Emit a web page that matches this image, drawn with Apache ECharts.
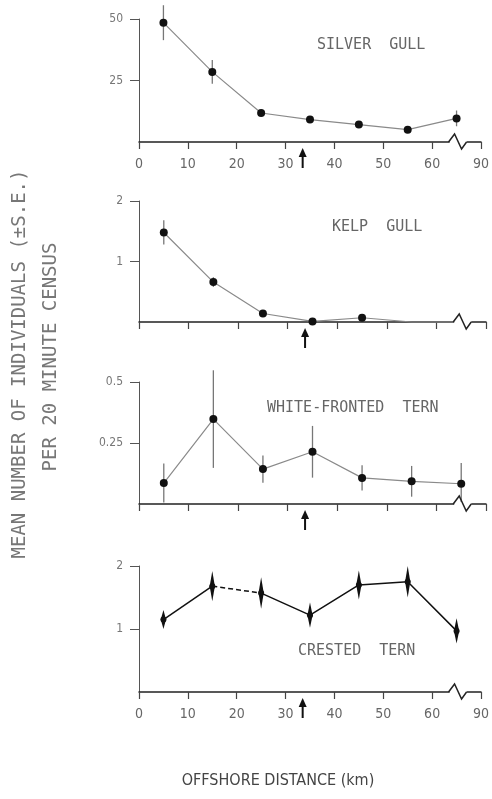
<!DOCTYPE html>
<html>
<head>
<meta charset="utf-8">
<script src="https://cdn.jsdelivr.net/npm/echarts@6/dist/echarts.min.js"></script>
<style>
  html, body { margin: 0; padding: 0; background: #fff; }
  #main { width: 492px; height: 799px; }
</style>
</head>
<body>
<div id="main"></div>
<script>
// sampling distances (km, midpoint of each 10 km band)
var distances = [5, 15, 25, 35, 45, 55, 65];
var xTickLabels = ['0', '10', '20', '30', '40', '50', '60', '90'];
var arrowDistance = [33.5];

// mean per 20 min census and standard error
var silverMean = [48.5, 28.5, 11.8, 9.1, 7.1, 5.0, 9.6];
var silverSE = [7.1, 4.8, 1.2, 1.0, 1.0, 0.8, 3.2];
var kelpMean = [1.48, 0.66, 0.14, 0.01, 0.07, 0, 0];
var kelpSE = [0.2, 0.08, 0.04, 0.01, 0.03, 0, 0];
var whiteMean = [0.086, 0.348, 0.143, 0.214, 0.107, 0.093, 0.083];
var whiteSE = [0.08, 0.2, 0.056, 0.106, 0.052, 0.063, 0.085];
var crestedMean = [1.15, 1.68, 1.57, 1.22, 1.70, 1.75, 0.97];
var crestedSE = [0.15, 0.24, 0.25, 0.2, 0.23, 0.25, 0.2];

var NARROW = '"DejaVu Sans Condensed", sans-serif';
var MONO = '"DejaVu Sans Mono", "Liberation Mono", monospace';

var panels = [
  { name: 'SILVER  GULL', mean: silverMean, se: silverSE, max: 50, top: 19, height: 123, labels: true, kind: 'dot', tx: 317, ty: 38 },
  { name: 'KELP  GULL', mean: kelpMean, se: kelpSE, max: 2, top: 201, height: 121, labels: false, kind: 'dot', tx: 332, ty: 220 },
  { name: 'WHITE-FRONTED  TERN', mean: whiteMean, se: whiteSE, max: 0.5, top: 382, height: 122, labels: false, kind: 'dot', tx: 267, ty: 401 },
  { name: 'CRESTED  TERN', mean: crestedMean, se: crestedSE, max: 2, top: 566, height: 126, labels: true, kind: 'spindle', tx: 298, ty: 644 }
];

var chart = echarts.init(document.getElementById('main'));

var grids = [], xAxes = [], yAxes = [], series = [], graphics = [];

function pairs(ys) {
  return distances.map(function (d, i) { return [d, ys[i]]; });
}

panels.forEach(function (p, k) {
  grids.push({ left: 139, right: 6, top: p.top, height: p.height });
  xAxes.push({
    type: 'value', gridIndex: k, min: 0, max: 70, interval: 10,
    axisLine: { show: true, lineStyle: { color: '#222', width: 1.5 } },
    axisTick: { show: true, inside: false, length: 7, lineStyle: { color: '#444', width: 1.2 } },
    axisLabel: {
      show: p.labels, margin: 15, color: '#666', fontSize: 14,
      fontFamily: NARROW,
      formatter: function (v) { return xTickLabels[Math.round(v / 10)]; }
    },
    splitLine: { show: false }
  });
  yAxes.push({
    type: 'value', gridIndex: k, min: 0, max: p.max, interval: p.max / 2,
    axisLine: { show: true, lineStyle: { color: '#555', width: 1 } },
    axisTick: { show: true, length: 9, customValues: [p.max / 2, p.max], lineStyle: { color: '#555' } },
    axisLabel: {
      margin: 16, color: '#777', fontSize: 12, fontFamily: NARROW,
      customValues: [p.max / 2, p.max]
    },
    splitLine: { show: false }
  });

  // error bars
  series.push({
    type: 'custom', xAxisIndex: k, yAxisIndex: k, clip: false, z: 3,
    data: distances.map(function (d, i) { return [d, p.mean[i], p.se[i]]; }),
    renderItem: function (params, api) {
      var x = api.value(0), y = api.value(1), e = api.value(2);
      if (!e) return null;
      var hi = api.coord([x, y + e]), lo = api.coord([x, y - e]), c = api.coord([x, y]);
      if (p.kind === 'spindle') {
        return {
          type: 'polygon',
          shape: { points: [hi, [c[0] + 2.6, c[1]], lo, [c[0] - 2.6, c[1]]] },
          style: { fill: '#111' }
        };
      }
      return {
        type: 'line',
        shape: { x1: hi[0], y1: hi[1], x2: lo[0], y2: lo[1] },
        style: { stroke: '#777', lineWidth: 1.3 }
      };
    }
  });

  // mean lines
  if (p.kind === 'spindle') {
    var pts = pairs(p.mean);
    [pts.slice(0, 2), pts.slice(2)].forEach(function (seg) {
      series.push({
        type: 'line', xAxisIndex: k, yAxisIndex: k, data: seg, clip: false,
        symbol: 'circle', symbolSize: 6, itemStyle: { color: '#111' },
        lineStyle: { color: '#111', width: 1.5 }, z: 4
      });
    });
    series.push({
      type: 'line', xAxisIndex: k, yAxisIndex: k, data: pts.slice(1, 3), clip: false,
      symbol: 'none', lineStyle: { color: '#111', width: 1.5, type: [5, 3] }, z: 4
    });
  } else {
    series.push({
      type: 'line', xAxisIndex: k, yAxisIndex: k, data: pairs(p.mean), clip: false,
      symbol: 'circle',
      symbolSize: function (v) { return v[1] === 0 ? 0 : 8; },
      itemStyle: { color: '#111' },
      lineStyle: { color: '#8a8a8a', width: 1.2 }, z: 4
    });
  }

  // axis break near the 60-90 gap
  series.push({
    type: 'custom', xAxisIndex: k, yAxisIndex: k, clip: false, z: 5,
    data: [[65, 0]], silent: true,
    renderItem: function (params, api) {
      var c = api.coord([api.value(0), api.value(1)]);
      return {
        type: 'group',
        children: [
          { type: 'rect', shape: { x: c[0] - 7, y: c[1] - 2, width: 17, height: 4 }, style: { fill: '#fff' } },
          {
            type: 'polyline',
            shape: { points: [[c[0] - 8, c[1]], [c[0] - 2, c[1] - 8], [c[0] + 5, c[1] + 7], [c[0] + 10, c[1]]] },
            style: { stroke: '#222', lineWidth: 1.5, fill: null }
          }
        ]
      };
    }
  });

  // arrow under the axis
  series.push({
    type: 'custom', xAxisIndex: k, yAxisIndex: k, clip: false, z: 5,
    data: arrowDistance.map(function (d) { return [d, 0]; }), silent: true,
    renderItem: function (params, api) {
      var c = api.coord([api.value(0), api.value(1)]);
      return {
        type: 'group',
        children: [
          { type: 'line', shape: { x1: c[0], y1: c[1] + 13, x2: c[0], y2: c[1] + 26 }, style: { stroke: '#111', lineWidth: 2 } },
          { type: 'polygon', shape: { points: [[c[0], c[1] + 6], [c[0] - 4, c[1] + 15], [c[0] + 4, c[1] + 15]] }, style: { fill: '#111' } }
        ]
      };
    }
  });

  graphics.push({
    type: 'text', left: p.tx, top: p.ty,
    style: { text: p.name, fill: '#666', font: '15px ' + MONO }
  });
});

graphics.push({
  type: 'text', rotation: Math.PI / 2, x: 20, y: 364,
  style: { text: 'MEAN NUMBER OF INDIVIDUALS (\u00b1S.E.)', fill: '#777', font: '19px ' + MONO, align: 'center', verticalAlign: 'middle' }
});
graphics.push({
  type: 'text', rotation: Math.PI / 2, x: 51, y: 357,
  style: { text: 'PER 20 MINUTE CENSUS', fill: '#777', font: '19px ' + MONO, align: 'center', verticalAlign: 'middle' }
});
graphics.push({
  type: 'text', x: 278, y: 781,
  style: { text: 'OFFSHORE DISTANCE (km)', fill: '#444', font: '16px ' + NARROW, align: 'center', verticalAlign: 'middle' }
});

chart.setOption({
  animation: false,
  grid: grids,
  xAxis: xAxes,
  yAxis: yAxes,
  series: series,
  graphic: graphics
});
</script>
</body>
</html>
